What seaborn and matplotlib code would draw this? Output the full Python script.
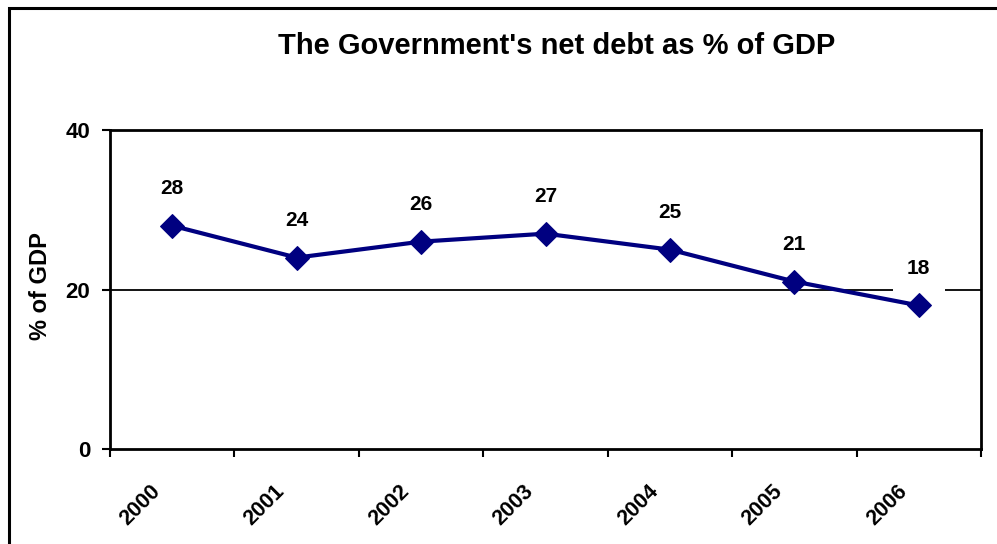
import matplotlib
matplotlib.use("Agg")
import matplotlib.pyplot as plt
import matplotlib.transforms as mtransforms
import seaborn as sns
import pandas as pd
from matplotlib.patches import Rectangle
from matplotlib.ticker import FixedLocator

years = ["2000", "2001", "2002", "2003", "2004", "2005", "2006"]
debt = [28, 24, 26, 27, 25, 21, 18]
yticks = [0, 20, 40]

sns.set_theme(style="white")
plt.rcParams['font.family'] = ['Liberation Sans', 'DejaVu Sans']
plt.rcParams['font.weight'] = 'bold'
plt.rcParams['text.color'] = 'black'
plt.rcParams['axes.labelcolor'] = 'black'
plt.rcParams['xtick.color'] = 'black'
plt.rcParams['ytick.color'] = 'black'

W, H = 997, 544
fig = plt.figure(figsize=(W / 100, H / 100), dpi=100)
ax = fig.add_axes([110 / W, 1 - 449 / H, (981 - 110) / W, (449 - 130) / H])

df = pd.DataFrame({"pos": range(len(years)), "year": years, "debt": debt})
sns.lineplot(data=df, x="pos", y="debt", ax=ax, color="#000080", linewidth=3,
             marker="D", markersize=12, markeredgecolor="#000080", clip_on=False, zorder=3)

ax.set_xlim(-0.5, len(years) - 0.5)
ax.set_ylim(0, 40)
ax.set_yticks(yticks)
ax.set_yticklabels([str(v) for v in yticks], fontsize=16, fontweight='bold', color='black')
ax.axhline(20, color="black", linewidth=1.3, zorder=1)

ax.xaxis.set_major_locator(FixedLocator(list(range(len(years)))))
ax.set_xticklabels(years, rotation=45, ha='right', va='center', rotation_mode='anchor',
                   fontsize=15.5, fontweight='bold', color='black')
ax.xaxis.set_minor_locator(FixedLocator([i - 0.5 for i in range(len(years) + 1)]))
ax.tick_params(axis='x', which='major', length=0, pad=28)
ax.tick_params(axis='x', which='minor', length=5.8, width=1.5, color='black', direction='out', bottom=True)
ax.tick_params(axis='y', which='major', length=5.8, width=1.5, color='black', direction='out', left=True, pad=8.5)

shift = mtransforms.ScaledTranslation(-15 / 100, 0, fig.dpi_scale_trans)
for lab in ax.get_xticklabels():
    lab.set_transform(lab.get_transform() + shift)

for s in ax.spines.values():
    s.set_color("black")
    s.set_linewidth(2)

ax.set_xlabel("")
ax.set_ylabel("% of GDP", fontsize=17, fontweight='bold', color='black')
ax.yaxis.set_label_coords(-0.0666, 0.51)

for i, v in enumerate(debt):
    t = ax.annotate(str(v), (i, v), xytext=(0, 26.6), textcoords='offset points',
                    ha='center', va='center', fontsize=15, fontweight='bold', color='black', zorder=4)
    if i == len(debt) - 1:
        t.set_bbox(dict(facecolor='white', edgecolor='none', boxstyle='square,pad=0.68'))

fig.text(557 / W, 1 - 46 / H, "The Government's net debt as % of GDP", ha='center', va='center',
         fontsize=21, fontweight='bold', color='black')

fig.patches.append(Rectangle((9 / W, -0.05), 2, 1 - 8 / H + 0.05, transform=fig.transFigure,
                             fill=False, edgecolor='black', linewidth=2.2))

fig.savefig("out.png", dpi=100)
